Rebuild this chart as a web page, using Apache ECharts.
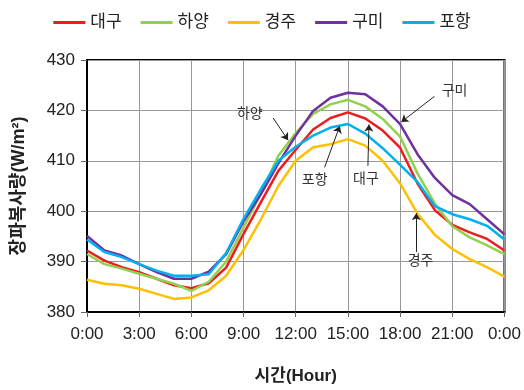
<!DOCTYPE html>
<html>
<head>
<meta charset="utf-8">
<script src="https://cdn.jsdelivr.net/npm/echarts@6/dist/echarts.min.js"></script>
<style>
  html, body { margin: 0; padding: 0; background: #fff; }
  #main { width: 524px; height: 390px; }
</style>
</head>
<body>
<div id="main"></div>
<script>
// 시간 (hour of day, 0..24)
var hours = [0, 1, 2, 3, 4, 5, 6, 7, 8, 9, 10, 11, 12, 13, 14, 15, 16, 17, 18, 19, 20, 21, 22, 23, 24];

var daegu  = [392.2, 390.2, 388.9, 387.9, 386.6, 385.3, 384.7, 385.7, 388.8, 395.5, 401.8, 408.0, 412.2, 416.2, 418.5, 419.6, 418.4, 416.0, 412.6, 405.5, 400.2, 397.3, 395.8, 394.5, 392.2];
var hayang = [391.5, 389.5, 388.6, 387.6, 386.6, 385.6, 384.2, 386.0, 390.0, 396.8, 403.5, 411.0, 415.5, 419.3, 421.2, 422.1, 420.8, 418.3, 414.8, 407.5, 401.5, 397.0, 394.8, 393.2, 391.5];
var gyeongju = [386.4, 385.6, 385.3, 384.6, 383.6, 382.6, 382.9, 384.3, 387.2, 392.3, 398.4, 405.0, 410.0, 412.7, 413.3, 414.3, 413.0, 410.0, 405.5, 399.5, 395.3, 392.5, 390.5, 388.9, 387.0];
var gumi   = [395.1, 392.2, 391.2, 389.5, 387.9, 386.6, 386.6, 388.0, 391.5, 398.0, 403.4, 409.5, 415.0, 419.9, 422.5, 423.5, 423.2, 420.8, 417.3, 411.3, 406.6, 403.2, 401.4, 398.4, 395.4];
var pohang = [394.4, 391.9, 390.9, 389.5, 388.2, 387.2, 387.2, 387.5, 391.7, 398.5, 404.4, 410.0, 412.8, 415.0, 416.6, 417.3, 415.4, 412.5, 409.2, 405.8, 401.0, 399.4, 398.4, 397.1, 394.4];

var names  = ['대구', '하양', '경주', '구미', '포항'];
var colors = ['#ee1c1c', '#92d050', '#ffc000', '#7030a0', '#00b0f0'];

// 주석 (라벨 위치와 화살표, 데이터 좌표)
var noteNames = ['하양', '포항', '대구', '구미', '경주'];
var noteText  = [[9.36, 419.2], [13.09, 406.2], [16.04, 406.4], [21.13, 423.9], [19.18, 390.1]];
var arrowFrom = [[10.70, 418.5], [13.66, 408.7], [16.15, 409.0], [19.98, 422.8], [18.93, 391.9]];
var arrowTo   = [[11.56, 414.1], [14.53, 416.9], [16.21, 417.2], [18.07, 417.7], [18.93, 399.6]];

var FONT = '"Liberation Sans", "Noto Sans CJK KR", sans-serif';

function pairs(vals) {
  return hours.map(function (h, i) { return [h, vals[i]]; });
}

var chart = echarts.init(document.getElementById('main'));

var series = [daegu, hayang, gyeongju, gumi, pohang].map(function (vals, i) {
  return {
    name: names[i],
    type: 'line',
    data: pairs(vals),
    showSymbol: false,
    symbol: 'none',
    lineStyle: { width: 2.5, color: colors[i] },
    itemStyle: { color: colors[i] },
    z: 3
  };
});

// 화살표
series[4].markLine = {
  silent: true,
  symbol: ['none', 'arrow'],
  symbolSize: 7,
  label: { show: false },
  lineStyle: { color: '#222', width: 1, type: 'solid' },
  emphasis: { disabled: true },
  data: arrowFrom.map(function (p, i) {
    return [{ coord: p }, { coord: arrowTo[i] }];
  })
};

var option = {
  animation: false,
  textStyle: { fontFamily: FONT },
  legend: {
    data: names,
    top: 9,
    left: 'center',
    icon: 'rect',
    itemWidth: 32,
    itemHeight: 3,
    itemGap: 19,
    textStyle: { fontSize: 17, color: '#222', fontFamily: FONT }
  },
  grid: {
    left: 87, right: 19, top: 60, bottom: 76,
    show: true, borderColor: '#000', borderWidth: 2
  },
  xAxis: {
    type: 'value',
    min: 0, max: 24, interval: 3,
    name: '시간(Hour)',
    nameLocation: 'middle',
    nameGap: 56,
    nameTextStyle: { fontSize: 17, fontWeight: 'bold', color: '#222', fontFamily: FONT },
    axisLine: { show: true, lineStyle: { color: '#000', width: 2 } },
    axisTick: { show: true, length: 5, lineStyle: { color: '#666' } },
    axisLabel: {
      fontSize: 17, color: '#222', margin: 14, fontFamily: FONT,
      formatter: function (v) { return (v % 24) + ':00'; }
    },
    splitLine: { show: true, lineStyle: { color: '#999', width: 1 } }
  },
  yAxis: {
    type: 'value',
    min: 380, max: 430, interval: 10,
    name: '장파복사량(W/m²)',
    nameLocation: 'middle',
    nameGap: 59,
    nameTextStyle: { fontSize: 18, fontWeight: 'bold', color: '#222', fontFamily: FONT },
    axisLine: { show: true, lineStyle: { color: '#000', width: 2 } },
    axisTick: { show: true, length: 6, lineStyle: { color: '#666' } },
    axisLabel: { fontSize: 17, color: '#222', margin: 12, fontFamily: FONT },
    splitLine: { show: true, lineStyle: { color: '#999', width: 1 } }
  },
  series: series
};

chart.setOption(option);

// 라벨 텍스트
chart.setOption({
  graphic: noteNames.map(function (n, i) {
    var p = chart.convertToPixel({ gridIndex: 0 }, noteText[i]);
    return {
      type: 'text',
      x: p[0], y: p[1],
      silent: true,
      style: {
        text: n,
        font: '14px ' + FONT,
        fill: '#333',
        align: 'center',
        verticalAlign: 'middle'
      }
    };
  })
});
</script>
</body>
</html>
